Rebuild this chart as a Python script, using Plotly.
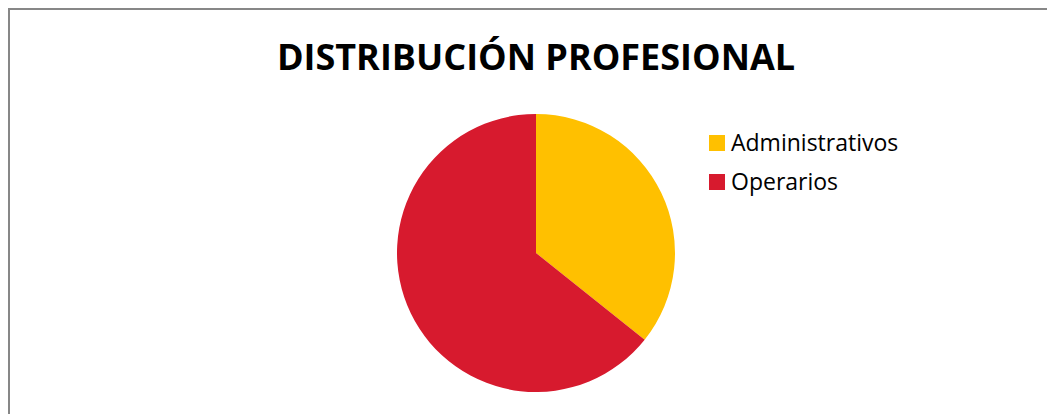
import plotly.graph_objects as go

labels = ["Administrativos", "Operarios"]
values = [5, 9]
colors = ["#FFC000", "#D71A2E"]

W, H = 1055, 414
OFF = 8  # page offset of the figure inside the browser
cx, cy, r = 536 - OFF, 253 - OFF, 139

fig = go.Figure(go.Pie(
    labels=labels, values=values, sort=False, direction="clockwise", rotation=0,
    marker=dict(colors=colors, line=dict(width=0)),
    textinfo="none", hoverinfo="label+value+percent", showlegend=False,
    domain=dict(x=[(cx - r) / W, (cx + r) / W], y=[1 - (cy + r) / H, 1 - (cy - r) / H]),
))

# legend drawn as squares + text from the label/colour lists
leg_x, leg_y0, leg_dy, sq = 709 - OFF, 143 - OFF, 39, 16
shapes = []
annotations = []
for i, (lab, col) in enumerate(zip(labels, colors)):
    yc = leg_y0 + i * leg_dy
    shapes.append(dict(type="rect", xref="paper", yref="paper",
                       x0=leg_x / W, x1=(leg_x + sq) / W,
                       y0=1 - (yc + sq / 2) / H, y1=1 - (yc - sq / 2) / H,
                       fillcolor=col, line=dict(width=0)))
    annotations.append(dict(text=lab, xref="paper", yref="paper",
                            x=(leg_x + sq + 4) / W, xanchor="left",
                            y=1 - (yc - 1) / H, yanchor="middle", showarrow=False,
                            font=dict(family="Open Sans", size=23, color="#000000")))

shapes.append(dict(type="rect", xref="paper", yref="paper",
                   x0=1 / W, x1=1.02, y0=-0.05, y1=1 - 1 / H,
                   line=dict(color="#878787", width=2), fillcolor="rgba(0,0,0,0)"))

fig.update_layout(
    width=W, height=H,
    margin=dict(l=0, r=0, t=0, b=0),
    paper_bgcolor="white", plot_bgcolor="white",
    title=dict(text="<b>DISTRIBUCIÓN PROFESIONAL</b>", x=(536 - OFF) / W, xanchor="center",
               y=1 - (57 - OFF) / H, yanchor="middle",
               font=dict(family="Open Sans", size=36, color="#000000")),
    shapes=shapes,
    annotations=annotations,
)

fig.write_html("out.html")
